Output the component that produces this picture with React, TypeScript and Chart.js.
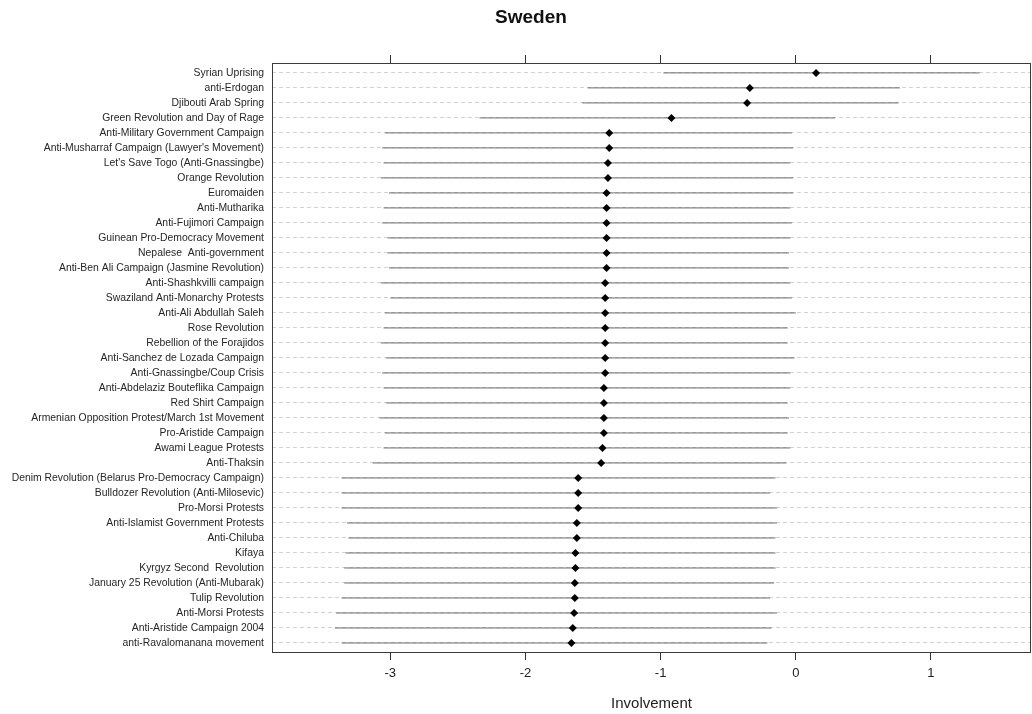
import React, { useEffect, useRef } from "react";
import { Chart, registerables } from "chart.js";

Chart.register(...registerables);

const TITLE = "Sweden";
const X_TITLE = "Involvement";

// Campaigns, listed top to bottom
const CATEGORIES = [
  "Syrian Uprising",
  "anti-Erdogan",
  "Djibouti Arab Spring",
  "Green Revolution and Day of Rage",
  "Anti-Military Government Campaign",
  "Anti-Musharraf Campaign (Lawyer's Movement)",
  "Let's Save Togo (Anti-Gnassingbe)",
  "Orange Revolution",
  "Euromaiden",
  "Anti-Mutharika",
  "Anti-Fujimori Campaign",
  "Guinean Pro-Democracy Movement",
  "Nepalese  Anti-government",
  "Anti-Ben Ali Campaign (Jasmine Revolution)",
  "Anti-Shashkvilli campaign",
  "Swaziland Anti-Monarchy Protests",
  "Anti-Ali Abdullah Saleh",
  "Rose Revolution",
  "Rebellion of the Forajidos",
  "Anti-Sanchez de Lozada Campaign",
  "Anti-Gnassingbe/Coup Crisis",
  "Anti-Abdelaziz Bouteflika Campaign",
  "Red Shirt Campaign",
  "Armenian Opposition Protest/March 1st Movement",
  "Pro-Aristide Campaign",
  "Awami League Protests",
  "Anti-Thaksin",
  "Denim Revolution (Belarus Pro-Democracy Campaign)",
  "Bulldozer Revolution (Anti-Milosevic)",
  "Pro-Morsi Protests",
  "Anti-Islamist Government Protests",
  "Anti-Chiluba",
  "Kifaya",
  "Kyrgyz Second  Revolution",
  "January 25 Revolution (Anti-Mubarak)",
  "Tulip Revolution",
  "Anti-Morsi Protests",
  "Anti-Aristide Campaign 2004",
  "anti-Ravalomanana movement",
];

// Point estimates
const ESTIMATE = [
  0.15, -0.34, -0.36, -0.92, -1.38, -1.38, -1.39, -1.39, -1.4, -1.4,
  -1.4, -1.4, -1.4, -1.4, -1.41, -1.41, -1.41, -1.41, -1.41, -1.41,
  -1.41, -1.42, -1.42, -1.42, -1.42, -1.43, -1.44, -1.61, -1.61, -1.61,
  -1.62, -1.62, -1.63, -1.63, -1.635, -1.635, -1.64, -1.65, -1.66,
];

// Interval lower bounds
const LOWER = [
  -0.98, -1.54, -1.58, -2.34, -3.04, -3.06, -3.05, -3.07, -3.01, -3.05,
  -3.06, -3.02, -3.02, -3.01, -3.07, -3.0, -3.04, -3.05, -3.07, -3.03,
  -3.06, -3.05, -3.03, -3.08, -3.04, -3.05, -3.13, -3.36, -3.36, -3.36,
  -3.32, -3.31, -3.33, -3.34, -3.34, -3.36, -3.4, -3.41, -3.36,
];

// Interval upper bounds
const UPPER = [
  1.36, 0.77, 0.76, 0.29, -0.03, -0.02, -0.04, -0.02, -0.02, -0.04,
  -0.03, -0.04, -0.05, -0.05, -0.04, -0.03, 0.0, -0.06, -0.06, -0.01,
  -0.04, -0.04, -0.06, -0.05, -0.06, -0.04, -0.07, -0.15, -0.19, -0.14,
  -0.14, -0.15, -0.15, -0.15, -0.16, -0.19, -0.14, -0.18, -0.21,
];

const X_TICKS = [-3, -2, -1, 0, 1];
const X_MIN = -3.875;
const X_MAX = 1.74;

const FONT = "'Liberation Sans', Arial, Helvetica, sans-serif";

// Frame around the plotting region plus the chart heading
const framePlugin = {
  id: "frame",
  afterDraw(chart: any) {
    const { ctx, chartArea } = chart;
    ctx.save();
    ctx.strokeStyle = "#3a3a3a";
    ctx.lineWidth = 1;
    ctx.strokeRect(
      Math.round(chartArea.left) + 0.5,
      Math.round(chartArea.top) + 0.5,
      Math.round(chartArea.right - chartArea.left) - 1,
      Math.round(chartArea.bottom - chartArea.top)
    );
    ctx.fillStyle = "#111";
    ctx.font = `bold 19px ${FONT}`;
    ctx.textAlign = "center";
    ctx.textBaseline = "middle";
    ctx.fillText(TITLE, 531, 18);
    ctx.restore();
  },
};

const fitHorizontal = (height: number) => (scale: any) => {
  scale.height = height;
  scale.paddingLeft = 0;
  scale.paddingRight = 0;
};

export default function App() {
  const canvasRef = useRef<HTMLCanvasElement | null>(null);

  useEffect(() => {
    const canvas = canvasRef.current;
    if (!canvas) return;

    const intervalSets = CATEGORIES.map((_, i) => ({
      type: "scatter" as const,
      data: [
        { x: LOWER[i], y: i },
        { x: UPPER[i], y: i },
      ],
      showLine: true,
      borderColor: "#6c6c6c",
      borderWidth: 1,
      pointRadius: 0,
      pointHoverRadius: 0,
    }));

    const chart = new Chart(canvas, {
      type: "scatter",
      data: {
        datasets: [
          {
            data: ESTIMATE.map((v, i) => ({ x: v, y: i })),
            pointStyle: "rectRot",
            pointRadius: 4,
            pointBackgroundColor: "#000",
            pointBorderColor: "#000",
            pointBorderWidth: 0,
          },
          ...intervalSets,
        ],
      },
      options: {
        responsive: false,
        animation: false,
        devicePixelRatio: 1,
        layout: { autoPadding: false, padding: { left: 0, right: 1, top: 0, bottom: 0 } },
        plugins: {
          legend: { display: false },
          tooltip: { enabled: false },
          title: { display: false },
        },
        scales: {
          x: {
            type: "linear",
            position: "bottom",
            min: X_MIN,
            max: X_MAX,
            afterBuildTicks: (scale: any) => {
              scale.ticks = X_TICKS.map((v) => ({ value: v }));
            },
            afterFit: fitHorizontal(62),
            border: { display: false },
            grid: {
              drawOnChartArea: false,
              drawTicks: true,
              tickLength: 8,
              tickColor: "#333",
              tickWidth: 1,
            },
            ticks: {
              color: "#222",
              font: { family: FONT, size: 13 },
              padding: 6,
              maxRotation: 0,
              callback: (v: any) => String(v),
            },
            title: {
              display: true,
              text: X_TITLE,
              color: "#222",
              font: { family: FONT, size: 15 },
              padding: { top: 0, bottom: 1 },
            },
          },
          xTop: {
            type: "linear",
            position: "top",
            min: X_MIN,
            max: X_MAX,
            afterBuildTicks: (scale: any) => {
              scale.ticks = X_TICKS.map((v) => ({ value: v }));
            },
            afterFit: fitHorizontal(63),
            border: { display: false },
            grid: {
              drawOnChartArea: false,
              drawTicks: true,
              tickLength: 8,
              tickColor: "#333",
              tickWidth: 1,
            },
            ticks: { display: false },
          },
          y: {
            type: "linear",
            position: "left",
            reverse: true,
            min: -0.66,
            max: 38.6,
            afterBuildTicks: (scale: any) => {
              scale.ticks = CATEGORIES.map((_, i) => ({ value: i }));
            },
            afterFit: (scale: any) => {
              scale.width = 272;
            },
            border: { display: false, dash: [4, 3] },
            grid: {
              drawTicks: false,
              color: "#d2d2d2",
              lineWidth: 1,
            },
            ticks: {
              color: "#262626",
              font: { family: FONT, size: 10.4 },
              padding: 8,
              autoSkip: false,
              callback: (v: any) => CATEGORIES[v] ?? "",
            },
          },
        },
      },
      plugins: [framePlugin],
    } as any);

    return () => chart.destroy();
  }, []);

  return (
    <div style={{ position: "absolute", left: 0, top: 0, width: 1032, height: 714, background: "#fff" }}>
      <canvas ref={canvasRef} width={1032} height={714} style={{ width: 1032, height: 714, display: "block" }} />
    </div>
  );
}
